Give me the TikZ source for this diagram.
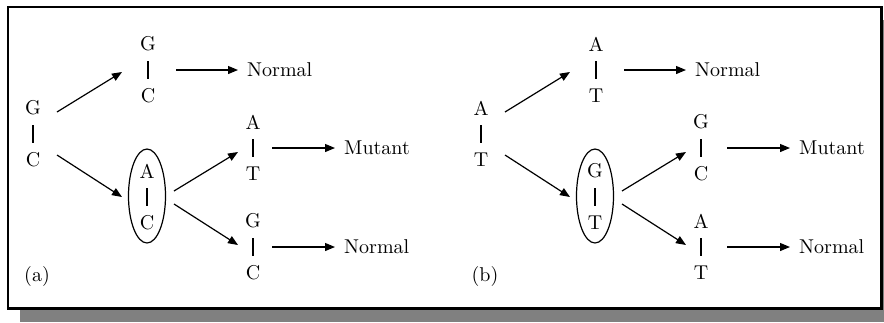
\documentclass[tikz,border=0pt]{standalone}
\usepackage{fontspec}
\setmainfont{lmroman10-regular.otf}
\usetikzlibrary{arrows.meta,shapes.geometric}
\tikzset{
  base/.style={inner xsep=1pt, inner ysep=10pt},
  bar/.style={line width=1.2pt},
  arr/.style={line width=1.2pt, -{Triangle[length=10pt,width=8pt]}},
  lbl/.style={anchor=west, inner xsep=9pt, inner ysep=2pt},
  mism/.style={draw, ellipse, line width=1.2pt, minimum width=37pt, minimum height=94pt, inner sep=0pt},
}
% base pair: name, centre, top letter, bottom letter
\newcommand{\bpair}[4]{%
  \coordinate (#1) at #2;
  \node[base] (#1t) at ([shift={(0,-26)}]#1) {#3};
  \node[base] (#1b) at ([shift={(0,26)}]#1) {#4};
  \draw[bar] (#1t) -- (#1b);}
\begin{document}
\begin{tikzpicture}[x=1pt,y=-1pt,font=\fontsize{20}{24}\selectfont]
	\useasboundingbox (0,0) rectangle (884,322);
	% frame with shadow
	\fill[gray] (20,20) rectangle (884,322);
	\draw[line width=2.2pt, fill=white] (8,7) rectangle (881.5,308.5);
	% the two panels
	\foreach \p/\dx/\gap/\ot/\ob/\mt/\mb/\mc in {a/0/0/G/C/A/C/T, b/448/7/A/T/G/T/C}{
	\begin{scope}[xshift=\dx]
		\bpair{\p0}{(33,134)}{\ot}{\ob}
		\bpair{\p1}{(148,70)}{\ot}{\ob}
		\node[mism] (\p e) at (147,196) {};
		\bpair{\p2}{(147,197)}{\mt}{\mb}
		\bpair{\p3}{(253,148)}{\mt}{\mc}
		\bpair{\p4}{(253,247)}{\ot}{\ob}
		\node[lbl] (\p n1) at (238,70) {Normal};
		\node[lbl] (\p n2) at ({335+\gap},148) {Mutant};
		\node[lbl] (\p n3) at ({335+\gap},247) {Normal};
		\node (\p lab) at (37,276) {(\p)};
		\draw[arr] ([shift={(24,-22)}]\p0) -- ([shift={(-26,2)}]\p1);
		\draw[arr] ([shift={(24,21)}]\p0) -- ([shift={(-25,0)}]\p2);
		\draw[arr] ([shift={(27,-6)}]\p2) -- ([shift={(-15,4)}]\p3);
		\draw[arr] ([shift={(27,7)}]\p2) -- ([shift={(-15,-2)}]\p4);
		\draw[arr] ([shift={(28,0)}]\p1) -- (\p n1);
		\draw[arr] ([shift={({19+\gap},0)}]\p3) -- (\p n2);
		\draw[arr] ([shift={({19+\gap},0)}]\p4) -- (\p n3);
	\end{scope}
	}
\end{tikzpicture}
\end{document}
